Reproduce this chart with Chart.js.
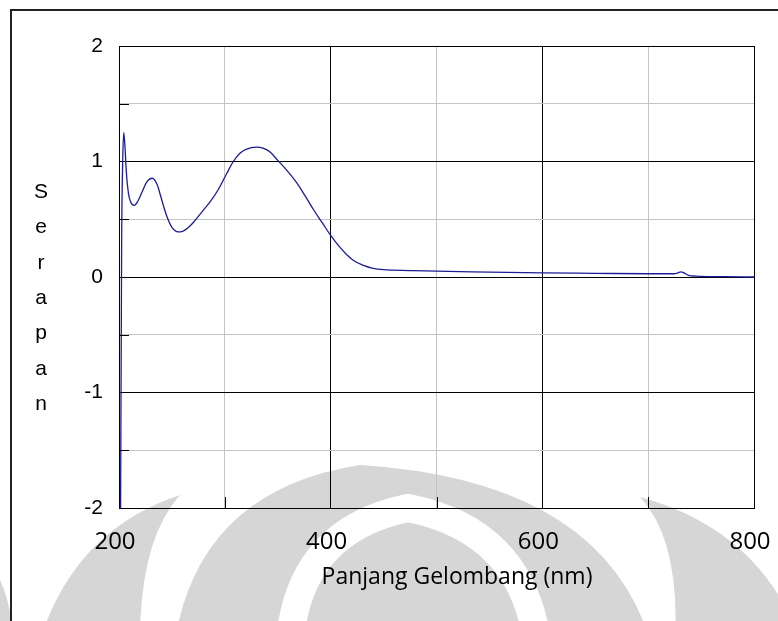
<!DOCTYPE html>
<html>
<head>
<meta charset="utf-8">
<script src="https://cdn.jsdelivr.net/npm/chart.js@4.4.1/dist/chart.umd.min.js"></script>
<style>
  html, body { margin: 0; padding: 0; background: #fff; }
  #wrap { width: 778px; height: 621px; position: relative; }
</style>
</head>
<body>
<div id="wrap"><canvas id="myChart" width="778" height="621"></canvas></div>
<script>
// wavelength (nm) and absorbance
const wavelength = [201.5, 202.5, 203.5, 204.5, 205.5, 207, 209, 211, 214.5, 218, 222, 226, 231.5, 236, 240, 245, 250, 254, 258, 263, 270, 278, 286, 294, 302, 308, 314, 320, 330, 336, 343, 350, 358, 368, 376, 384, 392, 400, 408, 415, 422, 431, 440, 450, 475, 500, 550, 600, 650, 700, 724, 728, 731, 734, 738, 745, 770, 800];
const absorbance = [-2.0, 0.3, 1.0, 1.25, 1.15, 0.9, 0.72, 0.65, 0.62, 0.66, 0.74, 0.82, 0.855, 0.8, 0.68, 0.53, 0.43, 0.395, 0.39, 0.41, 0.47, 0.56, 0.65, 0.76, 0.9, 1.0, 1.07, 1.105, 1.125, 1.115, 1.08, 1.01, 0.93, 0.815, 0.7, 0.58, 0.47, 0.36, 0.265, 0.195, 0.14, 0.1, 0.075, 0.063, 0.056, 0.05, 0.043, 0.036, 0.032, 0.028, 0.028, 0.035, 0.045, 0.035, 0.015, 0.008, 0.003, 0.0];
const xLabels = [200, 400, 600, 800];
const yLabels = [-2, -1, 0, 1, 2];
const yTitle = "Serapan";
const xTitle = "Panjang Gelombang (nm)";

const points = wavelength.map((w, i) => ({ x: w, y: absorbance[i] }));

// faint logo in the background (rough)
function drawWatermark(c) {
  c.fillStyle = "#d6d6d6";
  // inner dome
  c.beginPath();
  c.moveTo(175, 640);
  c.quadraticCurveTo(200, 490, 360, 465);
  c.quadraticCurveTo(600, 480, 650, 640);
  c.fill();
  // left wing
  c.beginPath();
  c.moveTo(40, 640);
  c.quadraticCurveTo(75, 530, 180, 495);
  c.quadraticCurveTo(140, 540, 140, 640);
  c.fill();
  // right wing
  c.beginPath();
  c.moveTo(675, 640);
  c.quadraticCurveTo(680, 540, 640, 497);
  c.quadraticCurveTo(760, 530, 800, 640);
  c.fill();
  // far left sliver
  c.beginPath();
  c.moveTo(0, 580);
  c.quadraticCurveTo(10, 600, 14, 640);
  c.lineTo(0, 640);
  c.fill();
  // white band inside the dome
  c.strokeStyle = "#fff";
  c.lineWidth = 28;
  c.beginPath();
  c.moveTo(290, 640);
  c.quadraticCurveTo(300, 530, 408, 508);
  c.quadraticCurveTo(520, 530, 537, 640);
  c.stroke();
}

// background, frame, axis titles and small inner ticks
const extras = {
  id: "extras",
  beforeDraw(chart) {
    const c = chart.ctx;
    c.save();
    c.fillStyle = "#fff";
    c.fillRect(0, 0, chart.width, chart.height);
    drawWatermark(c);
    c.restore();
  },
  afterDraw(chart) {
    const c = chart.ctx;
    const a = chart.chartArea;
    const xs = chart.scales.x, ys = chart.scales.y;
    c.save();
    // outer frame
    c.strokeStyle = "#222";
    c.lineWidth = 2;
    c.beginPath();
    c.moveTo(11, chart.height + 2);
    c.lineTo(11, 10);
    c.lineTo(chart.width + 2, 10);
    c.stroke();
    // minor ticks inside
    c.strokeStyle = "#000";
    c.lineWidth = 1;
    [-1.5, -0.5, 0.5, 1.5].forEach(v => {
      const y = Math.round(ys.getPixelForValue(v)) + 0.5;
      c.beginPath(); c.moveTo(a.left, y); c.lineTo(a.left + 10, y); c.stroke();
    });
    [300, 500, 700].forEach(v => {
      const x = Math.round(xs.getPixelForValue(v)) + 0.5;
      c.beginPath(); c.moveTo(x, a.bottom); c.lineTo(x, a.bottom - 11); c.stroke();
    });
    // y title, stacked letters
    c.fillStyle = "#000";
    c.font = "21px 'Liberation Sans', Arial";
    c.textAlign = "center";
    c.textBaseline = "alphabetic";
    yTitle.split("").forEach((ch, i) => c.fillText(ch, 41, 198 + i * 35.3));
    // x title
    c.font = "23px 'Open Sans'";
    c.fillText(xTitle, 457, 584);
    c.restore();
  }
};

function myLoadFunction() {
  const ctx = document.getElementById("myChart").getContext("2d");
  var myChartConfig = {
    type: "scatter",
    data: {
      datasets: [
        {
          label: "Serapan",
          data: points,
          showLine: true,
          borderColor: "#1c1c96",
          borderWidth: 1.3,
          pointRadius: 0,
          cubicInterpolationMode: "monotone",
        },
      ],
    },
    options: {
      responsive: false,
      animation: false,
      layout: { padding: { top: 46, right: 24, left: 0, bottom: 0 } },
      plugins: { legend: { display: false }, tooltip: { enabled: false } },
      scales: {
        x: {
          type: "linear",
          min: 200,
          max: 800,
          afterFit: s => { s.height = 113; },
          border: { color: "#000", width: 1 },
          grid: {
            drawTicks: true,
            tickLength: 18,
            tickColor: "rgba(0,0,0,0)",
            color: c => (c.tick.value % 200 === 0 ? "#000" : "#c4c4c4"),
          },
          ticks: {
            stepSize: 100,
            padding: 2,
            labelOffset: -4,
            color: "#000",
            font: { family: "'Open Sans'", size: 24 },
            maxRotation: 0,
            autoSkip: false,
            callback: v => (xLabels.includes(v) ? v : ""),
          },
        },
        y: {
          min: -2,
          max: 2,
          afterFit: s => { s.width = 119; },
          border: { color: "#000", width: 1 },
          grid: {
            drawTicks: false,
            color: c => (Number.isInteger(c.tick.value) ? "#000" : "#c4c4c4"),
          },
          ticks: {
            stepSize: 0.5,
            padding: 16,
            color: "#000",
            font: { family: "'Liberation Sans', Arial", size: 21 },
            callback: v => (yLabels.includes(v) ? v : ""),
          },
        },
      },
    },
    plugins: [extras],
  };
  const myChart = new Chart(ctx, myChartConfig);
}

document.addEventListener("DOMContentLoaded", myLoadFunction);
</script>
</body>
</html>
